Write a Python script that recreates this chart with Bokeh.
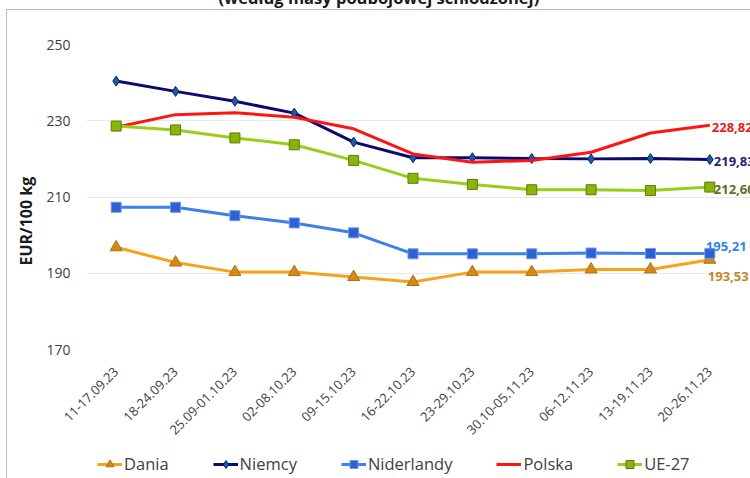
import math
from bokeh.plotting import figure
from bokeh.layouts import column
from bokeh.models import Range1d, FixedTicker, Legend, LegendItem, Title, ColumnDataSource
from bokeh.core.properties import value
from bokeh.embed import file_html
from bokeh.resources import INLINE

weeks = ["11-17.09.23", "18-24.09.23", "25.09-01.10.23", "02-08.10.23", "09-15.10.23",
         "16-22.10.23", "23-29.10.23", "30.10-05.11.23", "06-12.11.23", "13-19.11.23",
         "20-26.11.23"]
dania = [196.8, 192.8, 190.3, 190.3, 189.0, 187.7, 190.3, 190.3, 191.0, 191.0, 193.53]
niemcy = [240.4, 237.7, 235.1, 232.0, 224.4, 220.3, 220.3, 220.1, 220.0, 220.1, 219.83]
niderlandy = [207.3, 207.3, 205.1, 203.2, 200.6, 195.1, 195.1, 195.1, 195.3, 195.2, 195.21]
polska = [228.3, 231.6, 232.1, 230.9, 227.9, 221.3, 219.1, 219.6, 221.75, 226.8, 228.82]
ue27 = [228.6, 227.6, 225.5, 223.7, 219.6, 214.9, 213.3, 211.9, 211.9, 211.7, 212.6]
y_ticks = [170, 190, 210, 230, 250]
title_text = "(według masy poubojowej schłodzonej)"
y_title = "EUR/100 kg"

FONT = "Open Sans"
xs = list(range(len(weeks)))

# layout: 59.36 px per category, frame runs on to the right edge (labels get cut there)
cat_px = 653 / 11
frame_w = 664
x_end = -0.5 + frame_w / cat_px

p = figure(frame_width=frame_w, frame_height=305, x_range=Range1d(-0.5, x_end),
           y_range=Range1d(170, 250), output_backend="svg", toolbar_location=None,
           min_border_left=86, min_border_right=0, min_border_top=100, min_border_bottom=100)
p.border_fill_color = None
p.background_fill_color = None
p.outline_line_color = None

# title (only its lower part shows, as in the cropped original)
p.title.text = title_text
p.title.align = "left"
p.title.offset = 132
p.title.standoff = 72
p.title.text_font = FONT
p.title.text_font_size = "16.5px"
p.title.text_font_style = "bold"
p.title.text_color = "#1a1a1a"

# axes
p.xaxis.ticker = FixedTicker(ticks=xs)
p.xaxis.major_label_overrides = {i: w for i, w in enumerate(weeks)}
p.xaxis.major_label_orientation = math.pi / 4
p.xaxis.major_label_standoff = 14
p.xaxis.axis_line_color = None
p.xaxis.major_tick_line_color = None
p.xaxis.minor_tick_line_color = None
p.xaxis.major_label_text_font = FONT
p.xaxis.major_label_text_font_size = "13px"
p.xaxis.major_label_text_color = "#404040"

p.yaxis.ticker = FixedTicker(ticks=y_ticks)
p.yaxis.axis_line_color = None
p.yaxis.major_tick_line_color = None
p.yaxis.minor_tick_line_color = None
p.yaxis.major_tick_out = 0
p.yaxis.major_label_standoff = 16
p.yaxis.major_label_text_font = FONT
p.yaxis.major_label_text_font_size = "14px"
p.yaxis.major_label_text_color = "#404040"

p.add_layout(Title(text=y_title, align="left", offset=84, standoff=14, text_font=FONT,
                   text_font_size="16px", text_font_style="bold", text_color="#1a1a1a"),
             "left")

p.xgrid.visible = False
p.ygrid.ticker = FixedTicker(ticks=y_ticks)
p.ygrid.grid_line_color = "#e8e8e8"
p.ygrid.grid_line_width = 1

# legend strip (its own small plot; series glyphs there lie outside its range)
lf = figure(width=750, height=29, x_range=Range1d(-0.5, 10.5), y_range=Range1d(0, 1),
            output_backend="svg", toolbar_location=None, x_axis_location=None,
            y_axis_location=None, min_border=0)
lf.border_fill_color = None
lf.background_fill_color = None
lf.outline_line_color = None
lf.grid.visible = False

series = [
    ("Dania", dania, "#F7A21B", "triangle", "#D4891A", "#B06E10", 12),
    ("Niemcy", niemcy, "#0B0B6E", "diamond", "#1C5AA6", "#0B1F6E", 10),
    ("Niderlandy", niderlandy, "#3C80EC", "square", "#2F5FD0", "#6A9AF0", 10),
    ("Polska", polska, "#FF1414", None, None, None, 0),
    ("UE-27", ue27, "#9ACD1A", "square", "#8AB40A", "#5E7A06", 10),
]

items = []
for name, vals, lc, marker, fc, ec, sz in series:
    src = ColumnDataSource(dict(x=xs, y=vals))
    p.line("x", "y", source=src, line_color=lc, line_width=3)
    rs = [lf.line("x", "y", source=src, line_color=lc, line_width=3)]
    if marker:
        p.scatter("x", "y", source=src, marker=marker, size=sz,
                  fill_color=fc, line_color=ec, line_width=1)
        rs.append(lf.scatter("x", "y", source=src, marker=marker, size=sz,
                             fill_color=fc, line_color=ec, line_width=1))
    items.append(LegendItem(label=name, renderers=rs))

legend = Legend(items=items, orientation="horizontal", location=(11, 3),
                background_fill_alpha=0, border_line_color=None, padding=0, margin=0,
                spacing=44, label_standoff=2, glyph_width=25, glyph_height=20,
                label_height=20, label_text_font=FONT, label_text_font_size="16.5px",
                label_text_color="#404040", label_text_baseline="middle")
lf.add_layout(legend)

# end value labels
last = len(weeks) - 1
end_vals = [polska[last], niemcy[last], ue27[last], niderlandy[last], dania[last]]
end_src = ColumnDataSource(dict(
    x=[last] * 5,
    y=end_vals,
    t=[("%.2f" % v).replace(".", ",") for v in end_vals],
    c=["#E81E1E", "#1E2470", "#5C7024", "#2E86E6", "#C08A2A"],
    xo=[2, 4, 4, -4, -2],
    yo=[2, 2, 2, -7, 17],
))
p.text("x", "y", text="t", source=end_src, text_color="c", x_offset="xo", y_offset="yo",
       text_align="left", text_baseline="middle", text_font=value(FONT),
       text_font_size="13px", text_font_style="bold")

page = column(p, lf, spacing=0)
page.styles = {
    "margin-top": "-56px",
    "background": "linear-gradient(#bcbcbc,#bcbcbc) 6px 65px / 100% 1px no-repeat, "
                  "linear-gradient(#bcbcbc,#bcbcbc) 6px 65px / 1px 100% no-repeat",
}

open("out.html", "w").write(file_html(page, INLINE))
